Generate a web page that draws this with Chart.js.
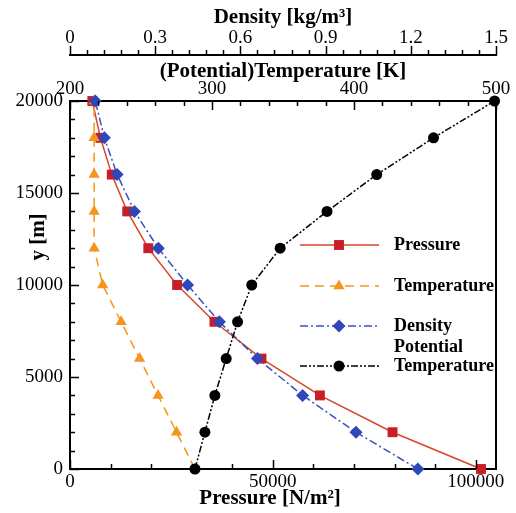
<!DOCTYPE html>
<html>
<head>
<meta charset="utf-8">
<script src="https://cdn.jsdelivr.net/npm/chart.js@4.4.1/dist/chart.umd.min.js"></script>
<style>
  html, body { margin: 0; padding: 0; background: #fff; }
</style>
</head>
<body>
<canvas id="myChart" width="516" height="513"></canvas>
<script>
// values (standard atmosphere style profile)
const heights = [0, 2000, 4000, 6000, 8000, 10000, 12000, 14000, 16000, 18000, 20000];
const pressure = [101300, 79500, 61600, 47200, 35600, 26400, 19300, 14100, 10300, 7500, 5500];
const temperature = [288, 275, 262, 249, 236, 223, 217, 217, 217, 217, 217];
const density = [1.225, 1.007, 0.819, 0.660, 0.526, 0.414, 0.311, 0.227, 0.166, 0.121, 0.089];
const potentialTemp = [288, 295, 302, 310, 318, 328, 348, 381, 416, 456, 499];

const pressureTicks = [0, 50000, 100000];
const temperatureTicks = [200, 300, 400, 500];
const densityTicks = [0, 0.3, 0.6, 0.9, 1.2, 1.5];
const heightTicks = [0, 5000, 10000, 15000, 20000];

const serif = '"Liberation Serif", "DejaVu Serif", serif';
const tickFont = { family: serif, size: 19 };
const titleFont = { family: serif, size: 21, weight: 'bold' };

function pts(xs) {
    return xs.map((v, i) => ({ x: v, y: heights[i] }));
}

// minor/major tick marks drawn inward, like the original plot
const minorSteps = { y: 1000, xP: 10000, xT: 20, xD: 0.06 };

const tickMarks = {
    id: 'tickMarks',
    afterDraw(chart) {
        const ctx = chart.ctx;
        const area = chart.chartArea;
        ctx.save();
        ctx.strokeStyle = '#000';
        ctx.lineWidth = 1.5;
        Object.keys(minorSteps).forEach(function (id) {
            const s = chart.scales[id];
            const step = minorSteps[id];
            const majors = s.ticks.map(t => t.value);
            const n = Math.floor((s.max - s.min) / step + 1e-6);
            for (let i = 0; i <= n; i++) {
                const v = s.min + i * step;
                const isMajor = majors.some(m => Math.abs(m - v) < step / 100);
                const len = isMajor ? 9 : 5;
                const p = Math.round(s.getPixelForValue(v)) + 0.5;
                ctx.beginPath();
                if (id === 'y') {
                    ctx.moveTo(area.left, p); ctx.lineTo(area.left + len, p);
                } else if (id === 'xP') {
                    ctx.moveTo(p, area.bottom); ctx.lineTo(p, area.bottom - len);
                } else if (id === 'xT') {
                    ctx.moveTo(p, area.top); ctx.lineTo(p, area.top + len);
                } else {
                    ctx.moveTo(p, s.bottom); ctx.lineTo(p, s.bottom - len);
                }
                ctx.stroke();
            }
        });
        // right frame
        ctx.lineWidth = 2;
        ctx.beginPath();
        ctx.moveTo(area.right, area.top);
        ctx.lineTo(area.right, area.bottom);
        ctx.stroke();

        // axis titles that sit off-centre in the original
        ctx.fillStyle = '#000';
        ctx.font = 'bold 21px ' + serif;
        ctx.textAlign = 'center';
        ctx.textBaseline = 'middle';
        ctx.fillText('Pressure [N/m²]', 270, 499);
        ctx.save();
        ctx.translate(39, 237);
        ctx.rotate(-Math.PI / 2);
        ctx.fillText('y [m]', 0, 0);
        ctx.restore();
        ctx.restore();
    }
};

function marker(ctx, style, x, y, r, color) {
    ctx.fillStyle = color;
    ctx.beginPath();
    if (style === 'rect') {
        const h = r * Math.SQRT1_2;
        ctx.rect(x - h, y - h, 2 * h, 2 * h);
    } else if (style === 'rectRot') {
        ctx.moveTo(x - r, y); ctx.lineTo(x, y - r); ctx.lineTo(x + r, y); ctx.lineTo(x, y + r);
        ctx.closePath();
    } else if (style === 'triangle') {
        ctx.moveTo(x, y - r);
        ctx.lineTo(x + r * 0.866, y + r * 0.5);
        ctx.lineTo(x - r * 0.866, y + r * 0.5);
        ctx.closePath();
    } else {
        ctx.arc(x, y, r, 0, Math.PI * 2);
    }
    ctx.fill();
}

// legend inside the plot
const legendRows = [245, 286, 326, 366];
const insideLegend = {
    id: 'insideLegend',
    afterDraw(chart) {
        const ctx = chart.ctx;
        ctx.save();
        chart.data.datasets.forEach(function (ds, i) {
            const y = legendRows[i];
            ctx.strokeStyle = ds.borderColor;
            ctx.lineWidth = ds.borderWidth;
            ctx.setLineDash(ds.borderDash || []);
            ctx.beginPath();
            ctx.moveTo(300, y); ctx.lineTo(379, y);
            ctx.stroke();
            ctx.setLineDash([]);
            marker(ctx, ds.pointStyle, 339, y, ds.pointRadius, ds.pointBackgroundColor);
            ctx.fillStyle = '#000';
            ctx.font = 'bold 18px ' + serif;
            ctx.textBaseline = 'middle';
            ctx.textAlign = 'left';
            const lines = ds.label.split('\n');
            lines.forEach(function (t, k) {
                ctx.fillText(t, 394, y - (lines.length - 1 - k) * 19);
            });
        });
        ctx.restore();
    }
};

function axisTicks(fmt) {
    return {
        font: tickFont, color: '#000', autoSkip: false, maxRotation: 0,
        callback: fmt || (v => String(v))
    };
}

function fixedTicks(list) {
    return s => { s.ticks = list.map(v => ({ value: v })); };
}

let ctx = document.getElementById('myChart').getContext('2d');

let chart = new Chart(ctx, {
    type: 'scatter',
    data: {
        datasets: [{
            label: 'Pressure',
            data: pts(pressure),
            xAxisID: 'xP', yAxisID: 'y',
            showLine: true, borderColor: '#d6462c', borderWidth: 1.5,
            pointStyle: 'rect', pointRadius: 7, pointBackgroundColor: '#c81e28', pointBorderWidth: 0,
            order: 3, clip: false
        }, {
            label: 'Temperature',
            data: pts(temperature),
            xAxisID: 'xT', yAxisID: 'y',
            showLine: true, borderColor: '#f7941d', borderWidth: 1.5, borderDash: [9, 6],
            pointStyle: 'triangle', pointRadius: 6.5, pointBackgroundColor: '#f7941d', pointBorderWidth: 0,
            order: 2, clip: false
        }, {
            label: 'Density',
            data: pts(density),
            xAxisID: 'xD', yAxisID: 'y',
            showLine: true, borderColor: '#3b50c2', borderWidth: 1.5, borderDash: [8, 3, 2, 3],
            pointStyle: 'rectRot', pointRadius: 6.5, pointBackgroundColor: '#2f47b8', pointBorderWidth: 0,
            order: 1, clip: false
        }, {
            label: 'Potential\nTemperature',
            data: pts(potentialTemp),
            xAxisID: 'xT', yAxisID: 'y',
            showLine: true, borderColor: '#000', borderWidth: 1.5, borderDash: [7, 2, 2, 2, 2, 2],
            pointStyle: 'circle', pointRadius: 5.5, pointBackgroundColor: '#000', pointBorderWidth: 0,
            order: 0, clip: false
        }]
    },
    options: {
        responsive: false,
        animation: false,
        events: [],
        layout: { padding: { right: 20 } },
        plugins: { legend: { display: false }, tooltip: { enabled: false } },
        scales: {
            xP: {
                type: 'linear', position: 'bottom', min: 0, max: 105000,
                afterBuildTicks: fixedTicks(pressureTicks),
                ticks: Object.assign(axisTicks(), { padding: 2 }),
                grid: { display: false, drawTicks: false },
                border: { color: '#000', width: 2 },
                title: { display: false },
                afterFit: s => { s.height = 44; }
            },
            xT: {
                type: 'linear', position: 'top', weight: 0, min: 200, max: 500,
                afterBuildTicks: fixedTicks(temperatureTicks),
                ticks: Object.assign(axisTicks(), { padding: 1 }),
                grid: { display: false, drawTicks: false },
                border: { color: '#000', width: 2 },
                title: { display: true, text: '(Potential)Temperature [K]', font: titleFont, color: '#000', padding: { top: 4, bottom: 0 } },
                afterFit: s => { s.height = 46; }
            },
            xD: {
                type: 'linear', position: 'top', weight: 1, min: 0, max: 1.5,
                afterBuildTicks: fixedTicks(densityTicks),
                ticks: Object.assign(axisTicks(v => String(+v.toFixed(1))), { padding: 6 }),
                grid: { display: false, drawTicks: false },
                border: { color: '#000', width: 2 },
                title: { display: true, text: 'Density [kg/m³]', font: titleFont, color: '#000', padding: { top: 5, bottom: 0 } },
                afterFit: s => { s.height = 55; }
            },
            y: {
                type: 'linear', position: 'left', min: 0, max: 20000,
                afterBuildTicks: fixedTicks(heightTicks),
                ticks: Object.assign(axisTicks(), { padding: 7 }),
                grid: { display: false, drawTicks: false },
                border: { color: '#000', width: 2 },
                title: { display: false },
                afterFit: s => { s.width = 70; }
            }
        }
    },
    plugins: [tickMarks, insideLegend]
});
</script>
</body>
</html>
